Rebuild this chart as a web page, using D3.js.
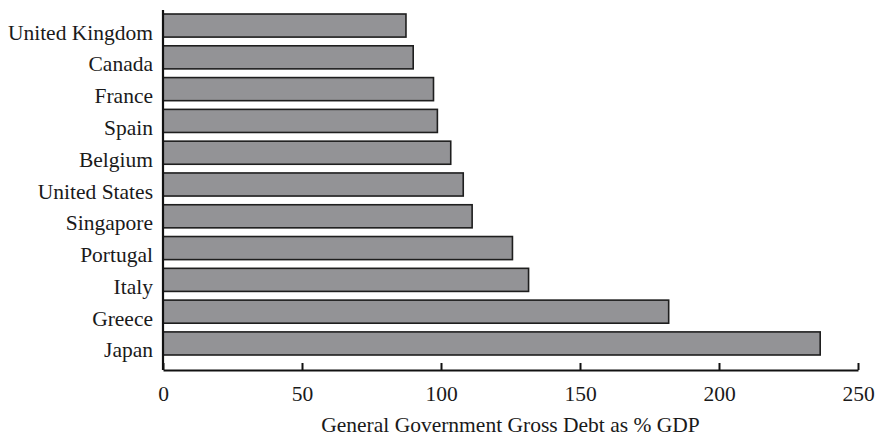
<!DOCTYPE html>
<html>
<head>
<meta charset="utf-8">
<script src="https://cdn.jsdelivr.net/npm/d3@7"></script>
<style>
  html, body { margin: 0; padding: 0; background: #ffffff; }
  svg { display: block; }
  svg text { font-family: "Liberation Serif", "Times New Roman", Times, "DejaVu Serif", serif; fill: #1a1a1a; }
</style>
</head>
<body>
<svg id="chart" width="875" height="439"></svg>
<script>
const countries = ["United Kingdom", "Canada", "France", "Spain", "Belgium", "United States",
                   "Singapore", "Portugal", "Italy", "Greece", "Japan"];
const debtPct = [87.4, 90.0, 97.3, 98.7, 103.5, 108.0, 111.2, 125.7, 131.5, 181.9, 236.4];
const xTicks = [0, 50, 100, 150, 200, 250];
const xTitle = "General Government Gross Debt as % GDP";

(function () {
const FONT = '"Liberation Serif", "Times New Roman", Times, "DejaVu Serif", serif';
const svg = d3.select("#chart");
const mLeft = 163, mRight = 858, mTop = 10, axisY = 370;

const x = d3.scaleLinear().domain([0, 250]).range([mLeft, mRight]);
const y = d3.scaleBand().domain(countries).range([mTop, 359])
  .paddingInner(0.274).paddingOuter(0.126);

const data = countries.map((c, i) => ({ country: c, value: debtPct[i] }));

// bars
svg.append("g").selectAll("rect").data(data).join("rect")
  .attr("x", x(0))
  .attr("y", d => y(d.country))
  .attr("width", d => x(d.value) - x(0))
  .attr("height", y.bandwidth())
  .attr("fill", "#939396")
  .attr("stroke", "#1e1e1e")
  .attr("stroke-width", 1.6);

// category labels (baseline sits just below each bar's bottom edge, as in the reference)
svg.append("g").selectAll("text").data(data).join("text")
  .attr("x", 153)
  .attr("y", d => y(d.country) + y.bandwidth() + 2.5)
  .attr("text-anchor", "end")
  .attr("font-family", FONT)
  .attr("font-size", 21.5)
  .text(d => d.country);

// left axis line
svg.append("line")
  .attr("x1", mLeft).attr("x2", mLeft)
  .attr("y1", mTop).attr("y2", axisY)
  .attr("stroke", "#111").attr("stroke-width", 2.2);

// bottom axis
const xAxis = d3.axisBottom(x).tickValues(xTicks).tickSize(-7).tickSizeOuter(0).tickPadding(0);
const gx = svg.append("g").attr("transform", `translate(0,${axisY})`).call(xAxis);
gx.attr("font-family", FONT);
gx.select(".domain").attr("stroke", "#111").attr("stroke-width", 2.2);
gx.selectAll(".tick line").attr("stroke", "#111").attr("stroke-width", 2);
gx.selectAll(".tick text")
  .attr("y", 23)
  .attr("dy", "0.35em")
  .attr("font-size", 21.5)
  .attr("font-family", FONT)
  .attr("fill", "#1a1a1a");

// axis title
svg.append("text")
  .attr("x", (mLeft + mRight) / 2)
  .attr("y", 432)
  .attr("font-family", FONT)
  .attr("font-size", 21.5)
  .attr("text-anchor", "middle")
  .text(xTitle);
})();
</script>
</body>
</html>
